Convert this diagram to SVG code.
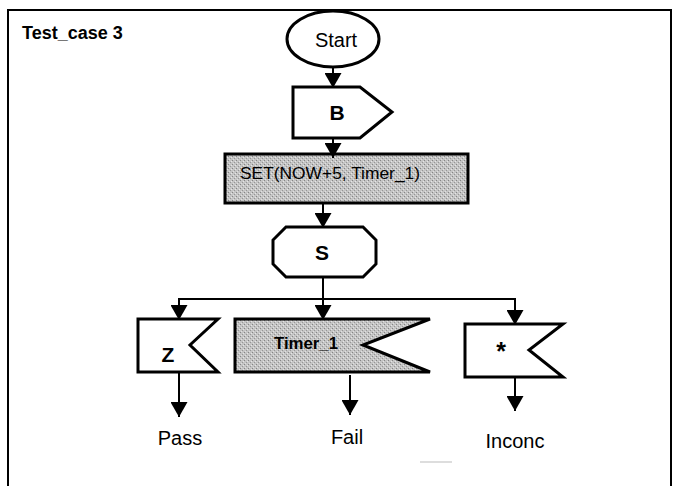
<svg xmlns="http://www.w3.org/2000/svg" width="674" height="486" viewBox="0 0 674 486">
  <defs>
    <pattern id="grain" width="4" height="4" patternUnits="userSpaceOnUse">
      <rect width="4" height="4" fill="#c4c4c4"/>
      <rect x="0" y="0" width="1" height="1" fill="#858585"/>
      <rect x="2" y="2" width="1" height="1" fill="#969696"/>
      <rect x="3" y="1" width="1" height="1" fill="#e6e6e6"/>
      <rect x="1" y="3" width="1" height="1" fill="#e0e0e0"/>
    </pattern>
    <marker id="arrow" viewBox="0 0 15 17" refX="15" refY="8.5" markerWidth="15" markerHeight="17" markerUnits="userSpaceOnUse" orient="auto">
      <path d="M0,0 L15,8.5 L0,17 Z" fill="#000"/>
    </marker>
  </defs>
  <style>
    .shape { fill: #fff; stroke: #000; stroke-width: 3; stroke-linejoin: miter; }
    .grey { fill: url(#grain); }
    .lbl { font-family: "Liberation Sans", Arial, sans-serif; fill: #000; text-anchor: middle; }
    .big { font-size: 20px; }
    .bold { font-weight: bold; }
    .edge { stroke: #000; stroke-width: 2; fill: none; }
  </style>

  <rect width="674" height="486" fill="#fff"/>
  <!-- outer frame -->
  <path d="M8,486 V10 H671 V486" fill="none" stroke="#000" stroke-width="2"/>
  <text x="22" y="39" class="lbl bold" style="text-anchor:start;font-size:18px">Test_case 3</text>

  <g id="start">
    <ellipse cx="333" cy="39" rx="46" ry="28" class="shape" stroke-width="2"/>
    <text x="336" y="47" class="lbl big">Start</text>
  </g>

  <g id="send-B">
    <path d="M293,87 H360 L392,112 L360,138 H293 Z" class="shape"/>
    <text x="337" y="120" class="lbl bold" style="font-size:21px">B</text>
  </g>

  <g id="set-timer">
    <rect x="225" y="154" width="243" height="49" class="shape grey"/>
    <text x="240" y="179" class="lbl" style="text-anchor:start;font-size:17px" textLength="180" lengthAdjust="spacingAndGlyphs">SET(NOW+5, Timer_1)</text>
  </g>

  <g id="state-S">
    <path d="M286,227 H363 L376,240 V264 L363,277 H286 L273,264 V240 Z" class="shape"/>
    <text x="322" y="260" class="lbl bold" style="font-size:21px">S</text>
  </g>

  <g id="recv-Z">
    <path d="M138,319 H218 L190,345 L218,372 H138 Z" class="shape"/>
    <text x="168" y="362" class="lbl bold" style="font-size:21px">Z</text>
  </g>

  <g id="timeout-Timer_1">
    <path d="M235,319 H430 L363,345 L430,372 H235 Z" class="shape grey"/>
    <text x="306" y="349" class="lbl bold" style="font-size:16px" textLength="64" lengthAdjust="spacingAndGlyphs">Timer_1</text>
  </g>

  <g id="recv-any">
    <path d="M465,324 H563 L529,350 L563,377 H465 Z" class="shape"/>
    <text x="501" y="360" class="lbl bold" style="font-size:25px">*</text>
  </g>

  <g id="verdict-pass">
    <text x="180" y="445" class="lbl big">Pass</text>
  </g>
  <g id="verdict-fail">
    <text x="347" y="444" class="lbl big">Fail</text>
  </g>
  <g id="verdict-inconc">
    <text x="515" y="448" class="lbl big">Inconc</text>
  </g>

  <!-- faint stray mark under the verdicts -->
  <line x1="420" y1="462" x2="452" y2="462" stroke="#bbb" stroke-width="1"/>

  <g id="connectors">
    <line x1="333" y1="67" x2="333" y2="88" class="edge" marker-end="url(#arrow)"/>
    <line x1="333" y1="138" x2="333" y2="158" class="edge" marker-end="url(#arrow)"/>
    <line x1="323" y1="203" x2="323" y2="228" class="edge" marker-end="url(#arrow)"/>
    <line x1="323" y1="277" x2="323" y2="320" class="edge" marker-end="url(#arrow)"/>
    <polyline points="179,320 179,299 515,299 515,325" class="edge" marker-end="url(#arrow)"/>
    <line x1="179" y1="305" x2="179" y2="320" class="edge" marker-end="url(#arrow)"/>
    <line x1="179" y1="373" x2="179" y2="417" class="edge" marker-end="url(#arrow)"/>
    <line x1="350" y1="375" x2="350" y2="415" class="edge" marker-end="url(#arrow)"/>
    <line x1="515" y1="377" x2="515" y2="411" class="edge" marker-end="url(#arrow)"/>
  </g>
</svg>
